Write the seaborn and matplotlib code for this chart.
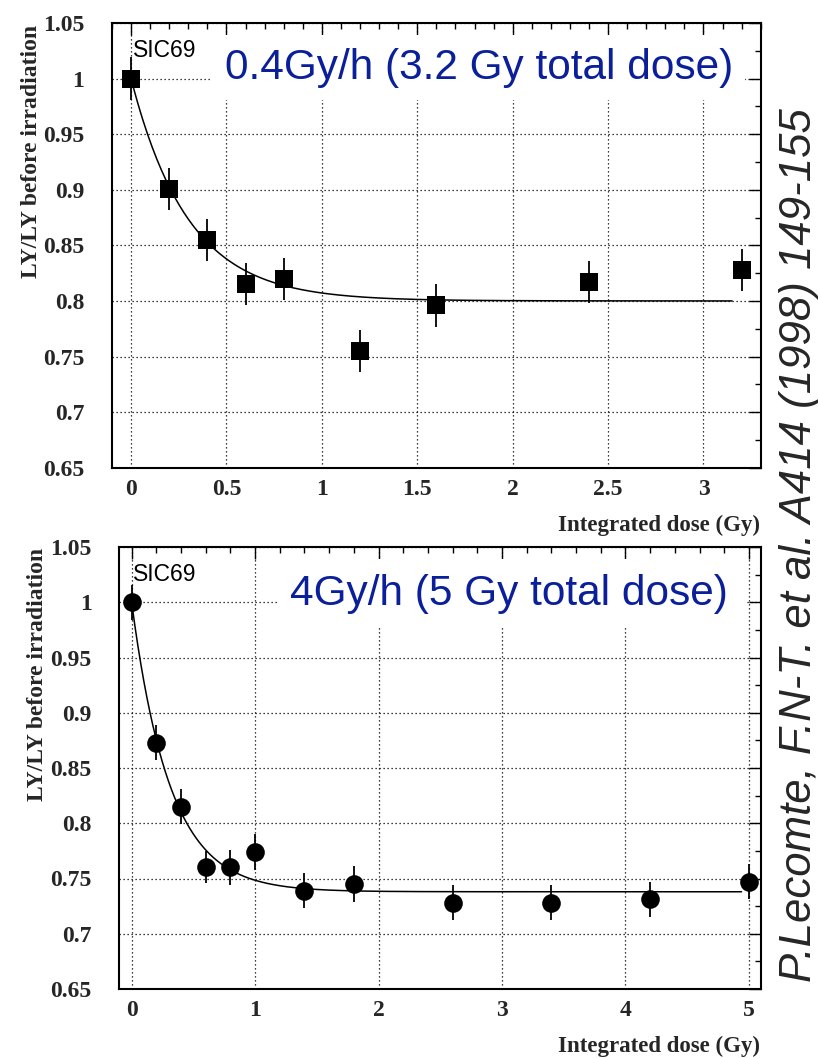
import numpy as np
import pandas as pd
import matplotlib
matplotlib.use("Agg")
import matplotlib.pyplot as plt
import seaborn as sns
from matplotlib.ticker import MultipleLocator, FuncFormatter
from matplotlib.patches import Rectangle

# ---------------- data ----------------
# Panel 1 : 0.4 Gy/h (3.2 Gy total dose)
dose_a = [0.0, 0.2, 0.4, 0.6, 0.8, 1.2, 1.6, 2.4, 3.2]
ly_a = [1.000, 0.901, 0.855, 0.815, 0.820, 0.755, 0.796, 0.817, 0.828]
err_a = [0.019, 0.019, 0.019, 0.019, 0.019, 0.019, 0.019, 0.019, 0.019]
# exponential fit drawn in panel 1: plateau, amplitude, decay constant (Gy), x range
fit_a = [0.800, 0.200, 0.30]
fit_a_range = [0.0, 3.15]

# Panel 2 : 4 Gy/h (5 Gy total dose)
dose_b = [0.0, 0.2, 0.4, 0.6, 0.8, 1.0, 1.4, 1.8, 2.6, 3.4, 4.2, 5.0]
ly_b = [1.000, 0.873, 0.815, 0.760, 0.760, 0.774, 0.739, 0.745, 0.728, 0.728, 0.731, 0.747]
err_b = [0.016, 0.0155, 0.016, 0.0145, 0.016, 0.016, 0.016, 0.016, 0.016, 0.016, 0.016, 0.016]
fit_b = [0.738, 0.262, 0.31]
fit_b_range = [0.0, 4.94]

titles = ["0.4Gy/h (3.2 Gy total dose)", "4Gy/h (5 Gy total dose)"]
sample = "SIC69"
ylab = "LY/LY before irradiation"
xlab = "Integrated dose (Gy)"
ref = "P.Lecomte, F.N-T. et al. A414 (1998) 149-155"

# ---------------- style ----------------
sns.set_theme(style="white")
plt.rcParams["font.family"] = ["Liberation Serif", "DejaVu Serif"]
plt.rcParams["axes.linewidth"] = 1.5

W, H = 818, 1058
fig = plt.figure(figsize=(W / 100, H / 100), dpi=100)
fig.patch.set_facecolor("white")


def px_rect(l, t, r, b):
    return [l / W, 1 - b / H, (r - l) / W, (b - t) / H]


ax1 = fig.add_axes(px_rect(112, 23, 760.7, 467.7))
ax2 = fig.add_axes(px_rect(119.3, 547, 761.3, 989))

blue = "#0a1f99"
fmt = FuncFormatter(lambda v, p: ("%g" % round(v, 3)))


def style(ax, xlim, xmaj, xmin):
    ax.set_facecolor("white")
    ax.set_axisbelow(True)
    ax.set_xlim(*xlim)
    ax.set_ylim(0.65, 1.05)
    ax.xaxis.set_major_locator(MultipleLocator(xmaj))
    ax.xaxis.set_minor_locator(MultipleLocator(xmin))
    ax.yaxis.set_major_locator(MultipleLocator(0.05))
    ax.yaxis.set_minor_locator(MultipleLocator(0.025))
    ax.xaxis.set_major_formatter(fmt)
    ax.yaxis.set_major_formatter(fmt)
    ax.tick_params(which="both", direction="in", top=True, right=True,
                   color="black", width=1.0)
    ax.tick_params(which="major", length=8.6)
    ax.tick_params(which="minor", length=4.6)
    ax.tick_params(axis="x", which="major", pad=8, labelsize=17)
    ax.tick_params(axis="y", which="major", pad=20, labelsize=17)
    for lab in ax.get_xticklabels() + ax.get_yticklabels():
        lab.set_fontweight("bold")
        lab.set_family(["Liberation Serif", "DejaVu Serif"])
    ax.grid(True, which="major", color="black", linestyle=(0, (1, 2.2)), linewidth=0.9)
    for s in ax.spines.values():
        s.set_color("black")
        s.set_linewidth(1.5)
    ax.set_xlabel("")
    ax.set_ylabel("")


def panel(ax, x, y, e, fit, frange, marker, msize, title, title_xy, sic_xy, box):
    # white box hiding the grid behind the title
    ax.add_patch(Rectangle((box[0], box[1]), box[2] - box[0], box[3] - box[1],
                           transform=ax.transAxes, facecolor="white",
                           edgecolor="none", zorder=1))
    xf = np.linspace(frange[0], frange[1], 400)
    yf = fit[0] + fit[1] * np.exp(-xf / fit[2])
    sns.lineplot(x=xf, y=yf, color="black", linewidth=1.1, ax=ax, zorder=2,
                 estimator=None, sort=False)
    ax.errorbar(x, y, yerr=e, fmt="none", ecolor="black", elinewidth=1.3,
                capsize=0, zorder=2.5)
    df = pd.DataFrame({"x": x, "y": y})
    sns.scatterplot(data=df, x="x", y="y", marker=marker, s=msize, color="black",
                    edgecolor="black", linewidth=0, ax=ax, zorder=3, legend=False)
    ax.text(title_xy[0], title_xy[1], title, transform=ax.transAxes, ha="right",
            va="baseline", fontsize=30.5, color=blue,
            family=["Liberation Sans", "DejaVu Sans"], zorder=4)
    ax.text(sic_xy[0], sic_xy[1], sample, transform=ax.transAxes, ha="left",
            va="baseline", fontsize=16.5, color="black",
            family=["Liberation Sans", "DejaVu Sans"], zorder=4)


panel(ax1, dose_a, ly_a, err_a, fit_a, fit_a_range, "s", 155, titles[0],
      (0.957, 0.874), (0.032, 0.924), (0.154, 0.827, 0.976, 0.972))
panel(ax2, dose_b, ly_b, err_b, fit_b, fit_b_range, "o", 180, titles[1],
      (0.948, 0.869), (0.0217, 0.923), (0.2456, 0.817, 0.9746, 0.972))

style(ax1, (-0.1, 3.3), 0.5, 0.1)
style(ax2, (-0.1, 5.1), 1.0, 0.2)

# axis titles (ROOT style: y title at top, x title at right)
fig.text(37 / W, 1 - 25 / H, ylab, rotation=90, rotation_mode="anchor",
         ha="right", va="baseline", fontsize=17, fontweight="bold")
fig.text(43 / W, 1 - 548 / H, ylab, rotation=90, rotation_mode="anchor",
         ha="right", va="baseline", fontsize=17, fontweight="bold")
fig.text(760 / W, 1 - 531 / H, xlab, ha="right", va="baseline",
         fontsize=16.5, fontweight="bold")
fig.text(760 / W, 1 - 1052 / H, xlab, ha="right", va="baseline",
         fontsize=16.5, fontweight="bold")

# reference text on the right
fig.text(811 / W, 1 - 545 / H, ref, rotation=90, rotation_mode="anchor",
         ha="center", va="baseline", fontsize=31.5, style="italic",
         family=["Liberation Sans", "DejaVu Sans"])

fig.savefig("out.png", dpi=100, facecolor="white")
